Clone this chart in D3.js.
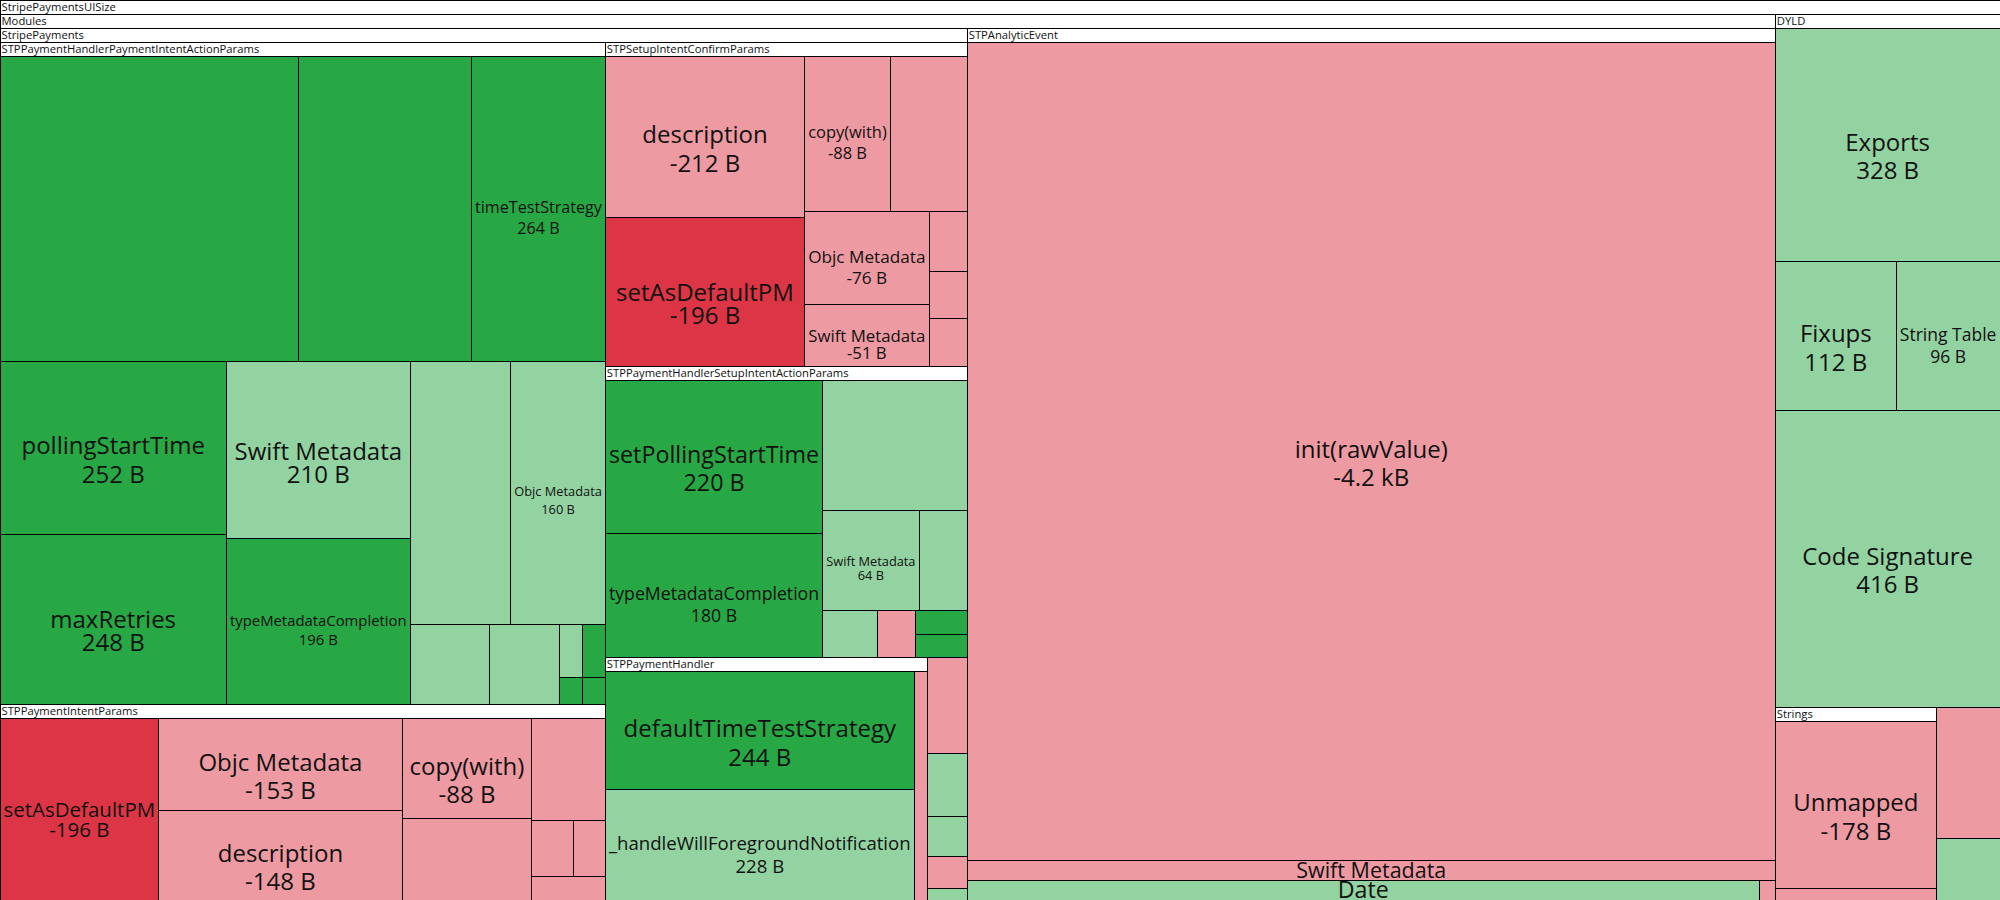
<!DOCTYPE html>
<html>
<head>
<meta charset="utf-8">
<script src="https://cdn.jsdelivr.net/npm/d3@7"></script>
<style>
    html, body { margin: 0; padding: 0; background: #fff; overflow: hidden; }
    svg { display: block; font-family: "Open Sans", sans-serif; }
</style>
</head>
<body>
<svg id="chart" width="2000" height="900"></svg>
<script>
// rows are [name, bytes, change], change is added | increased | decreased | removed

const paymentIntentActionParams = [
    ["STPPaymentHandlerPaymentIntentActionParams.init(apiClient:authenticationContext:threeDSCustomizationSettings:paymentIntent:returnURL:completion:)", 588, "added"],
    ["STPPaymentHandlerPaymentIntentActionParams.complete(with:error:)", 342, "added"],
    ["timeTestStrategy", 264, "added"],
    ["pollingStartTime", 252, "added"],
    ["maxRetries", 248, "added"],
    ["Swift Metadata", 210, "increased"],
    ["typeMetadataCompletion", 196, "added"],
    ["STPPaymentHandlerPaymentIntentActionParams.nextAction()", 170, "increased"],
    ["Objc Metadata", 160, "increased"],
    ["type metadata accessor for STPPaymentHandlerPaymentIntentActionParams", 41, "increased"],
    ["outlined destroy of STPPaymentHandlerPaymentIntentActionParams", 36, "increased"],
    ["STPPaymentHandlerPaymentIntentActionParams.paymentIntent.getter", 8, "increased"],
    ["STPPaymentHandlerPaymentIntentActionParams.pollingStartTime.getter", 8, "added"],
    ["STPPaymentHandlerPaymentIntentActionParams.maxRetries.getter", 4, "added"],
    ["STPPaymentHandlerPaymentIntentActionParams.maxRetries.setter", 4, "added"],
]

const paymentIntentParams = [
    ["setAsDefaultPM", 196, "removed"],
    ["Objc Metadata", 153, "decreased"],
    ["description", 148, "decreased"],
    ["copy(with)", 88, "decreased"],
    ["STPPaymentIntentParams.init(clientSecret:paymentMethodType:)", 72, "decreased"],
    ["STPPaymentIntentParams.additionalAPIParameters.getter", 51, "decreased"],
    ["STPPaymentIntentParams.rootObjectName()", 16, "decreased"],
    ["STPPaymentIntentParams.propertyNamesToFormFieldNamesMapping()", 12, "decreased"],
    ["outlined copy of STPPaymentIntentParams", 12, "decreased"],
]

const setupIntentConfirmParams = [
    ["description", 212, "decreased"],
    ["setAsDefaultPM", 196, "removed"],
    ["copy(with)", 88, "decreased"],
    ["STPSetupIntentConfirmParams.init(clientSecret:)", 79, "decreased"],
    ["Objc Metadata", 76, "decreased"],
    ["Swift Metadata", 51, "decreased"],
    ["STPSetupIntentConfirmParams.rootObjectName()", 15, "decreased"],
    ["STPSetupIntentConfirmParams.propertyNamesToFormFieldNamesMapping()", 12, "decreased"],
    ["outlined copy of STPSetupIntentConfirmParams", 12, "decreased"],
]

const setupIntentActionParams = [
    ["setPollingStartTime", 220, "added"],
    ["typeMetadataCompletion", 180, "added"],
    ["STPPaymentHandlerSetupIntentActionParams.init(apiClient:authenticationContext:threeDSCustomizationSettings:setupIntent:returnURL:completion:)", 125, "increased"],
    ["Swift Metadata", 64, "increased"],
    ["STPPaymentHandlerSetupIntentActionParams.complete(with:error:)", 32, "increased"],
    ["type metadata accessor for STPPaymentHandlerSetupIntentActionParams", 17, "increased"],
    ["STPPaymentHandlerSetupIntentActionParams.setupIntent.getter", 12, "decreased"],
    ["STPPaymentHandlerSetupIntentActionParams.pollingStartTime.getter", 8, "added"],
    ["STPPaymentHandlerSetupIntentActionParams.pollingStartTime.setter", 8, "added"],
]

const paymentHandler = [
    ["defaultTimeTestStrategy", 244, "added"],
    ["_handleWillForegroundNotification", 228, "increased"],
    ["STPPaymentHandler.confirmPayment(_:with:completion:)", 20, "decreased"],
]

const stripePaymentsOther = [
    ["STPPaymentMethodParams.setAsDefaultPM.getter", 24, "decreased"],
    ["STPPaymentHandlerActionParams.protocol witness", 16, "increased"],
    ["STPPaymentHandler.handleNextAction(for:with:)", 10, "increased"],
    ["STPConfirmPaymentMethodOptions.description.getter", 8, "decreased"],
    ["STPPaymentHandler.timeTestStrategy.getter", 3, "increased"],
]

const analyticEvent = [
    ["init(rawValue)", 4175, "decreased"],
    ["Swift Metadata", 102, "decreased"],
]

const modulesOther = [
    ["Date", 98, "increased"],
    ["StripeCore.STPAPIClient.sharedVersion", 2, "decreased"],
]

const dyld = [
    ["Exports", 328, "increased"],
    ["Fixups", 112, "increased"],
    ["String Table", 96, "increased"],
    ["Code Signature", 416, "increased"],
]

const strings = [
    ["Unmapped", 178, "decreased"],
    ["CStrings (__TEXT.__cstring)", 12, "decreased"],
]

const rootOther = [
    ["__DATA_CONST.__objc_selrefs section", 51, "decreased"],
    ["__TEXT.__swift5_typeref section", 24, "increased"],
]

const width = 2000, height = 900
const headerH = 14
const colors = {
    added: "#28a745",
    increased: "#93d3a2",
    decreased: "#ee9aa2",
    removed: "#dc3545"
}

function leaves(rows) {
    return rows.map(([name, size, change]) => ({name, size, change}))
}

function group(name, rows, extra = []) {
    return {name, children: leaves(rows).concat(extra)}
}

const data = {
    name: "StripePaymentsUISize",
    children: [
        {
            name: "Modules",
            children: [
                {
                    name: "StripePayments",
                    children: [
                        group("STPPaymentHandlerPaymentIntentActionParams", paymentIntentActionParams),
                        group("STPPaymentIntentParams", paymentIntentParams),
                        group("STPSetupIntentConfirmParams", setupIntentConfirmParams),
                        group("STPPaymentHandlerSetupIntentActionParams", setupIntentActionParams),
                        group("STPPaymentHandler", paymentHandler),
                    ].concat(leaves(stripePaymentsOther))
                },
                group("STPAnalyticEvent", analyticEvent),
            ].concat(leaves(modulesOther))
        },
        group("DYLD", dyld),
        group("Strings", strings),
    ].concat(leaves(rootOther))
}

function fmtBytes(d) {
    let sign = (d.change === "decreased" || d.change === "removed") ? "-" : ""
    let v = d.size
    return sign + (v >= 1000 ? (v / 1000).toFixed(1) + " kB" : v + " B")
}

// text metrics at 100px, scaled later
const ctx = document.createElement("canvas").getContext("2d")
function metrics(text) {
    ctx.font = '100px "Open Sans"'
    let m = ctx.measureText(text)
    return {w: m.width / 100, asc: m.actualBoundingBoxAscent / 100, desc: m.actualBoundingBoxDescent / 100}
}

function draw() {
    const root = d3.hierarchy(data).sum(d => d.size || 0)
    d3.treemap()
        .size([width, height])
        .paddingTop(headerH)
        .tile(d3.treemapSquarify)(root)

    const svg = d3.select("#chart")
    const nodes = root.descendants()

    const cells = svg.selectAll("g.cell").data(nodes).enter().append("g")
        .attr("class", "cell")

    cells.append("rect")
        .attr("x", d => d.x0)
        .attr("y", d => d.y0)
        .attr("width", d => Math.max(0, d.x1 - d.x0))
        .attr("height", d => Math.max(0, d.y1 - d.y0))
        .attr("fill", d => d.children ? "#fff" : colors[d.data.change])
        .attr("stroke", "#000")
        .attr("stroke-width", 1)
        .attr("shape-rendering", "crispEdges")

    // group headers
    cells.filter(d => d.children)
        .append("text")
        .attr("x", d => d.x0 + 1.5)
        .attr("y", d => d.y0 + 10.5)
        .attr("font-size", 11.25)
        .attr("fill", "#111")
        .text(d => d.data.name)

    // leaf labels, sized to fit the cell
    const maxFont = 24, minFont = 10, padX = 3.5, gap = 5
    cells.filter(d => !d.children).each(function (d) {
        let w = d.x1 - d.x0, h = d.y1 - d.y0
        let cx = (d.x0 + d.x1) / 2, cy = (d.y0 + d.y1) / 2
        let name = d.data.name, value = fmtBytes(d.data)
        let n = metrics(name), v = metrics(value)
        let g = d3.select(this)

        let f = Math.min(maxFont, (w - 2 * padX) / n.w, (w - 2 * padX) / v.w)
        // name centred on cy, value hangs below it
        let below = (n.asc + n.desc) / 2 + v.asc + v.desc
        if (f * below + gap > h / 2 - 1) f = Math.min(f, (h / 2 - 1 - gap) / below)

        if (f >= minFont) {
            let nameBase = cy + f * (n.asc - n.desc) / 2
            let valueBase = nameBase + f * n.desc + gap + f * v.asc
            g.append("text").attr("x", cx).attr("y", nameBase)
                .attr("text-anchor", "middle").attr("font-size", f).attr("fill", "#111")
                .text(name)
            g.append("text").attr("x", cx).attr("y", valueBase)
                .attr("text-anchor", "middle").attr("font-size", f).attr("fill", "#111")
                .text(value)
            return
        }

        f = Math.min(maxFont, (w - 2 * padX) / n.w, (h - 3) / (n.asc + n.desc))
        if (f >= minFont) {
            g.append("text").attr("x", cx).attr("y", cy + f * (n.asc - n.desc) / 2)
                .attr("text-anchor", "middle").attr("font-size", f).attr("fill", "#111")
                .text(name)
        }
    })
}

if (document.fonts && document.fonts.load) {
    document.fonts.load('24px "Open Sans"').then(draw, draw)
} else {
    draw()
}
</script>
</body>
</html>
